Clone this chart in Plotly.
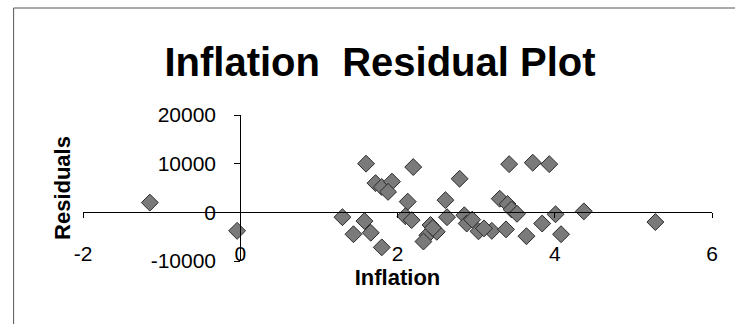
import plotly.graph_objects as go

inflation = [-1.15, -0.04, 1.30, 1.44, 1.58, 1.66, 1.80, 1.60, 1.72, 1.80, 1.93, 1.88,
             2.13, 2.10, 2.18, 2.20, 2.42, 2.38, 2.33, 2.61, 2.63, 2.79, 2.85, 2.88,
             3.03, 3.20, 3.38, 3.30, 3.40, 3.45, 3.52, 3.64, 3.84, 4.01, 4.08, 3.42,
             3.72, 3.93, 4.37, 5.28, 2.50, 2.45, 3.10, 2.95]
residuals = [2000, -3800, -1000, -4500, -1800, -4200, -7200, 10000, 6000, 5200, 6300, 4200,
             2200, -800, -1600, 9300, -2600, -4700, -6000, 2500, -1000, 6900, -600, -2300,
             -3900, -3800, -3500, 2800, 1700, 600, -300, -4900, -2300, -400, -4500, 9900,
             10200, 9900, 200, -2000, -4000, -3200, -3300, -1500]

x_ticks = [-2, 0, 2, 4, 6]
y_ticks = [-10000, 0, 10000, 20000]

FONT = "Liberation Sans"

fig = go.Figure()
fig.add_trace(go.Scatter(
    x=inflation, y=residuals, mode="markers",
    marker=dict(symbol="diamond", size=13, color="#7a7a7a",
                line=dict(color="#2a2a2a", width=1)),
    showlegend=False,
))

L, R, T, B = 82.5, 22.5, 115, 63
fig.update_layout(
    width=735, height=324, autosize=False,
    margin=dict(l=L, r=R, t=T, b=B, pad=0),
    paper_bgcolor="white", plot_bgcolor="white",
    font=dict(family=FONT, color="black"),
    title=dict(text="<b>Inflation  Residual Plot</b>", x=380 / 735, xref="container",
               xanchor="center", y=1 - 62 / 324, yref="container", yanchor="middle",
               font=dict(size=40, family=FONT, color="black")),
    xaxis=dict(range=[-2, 6], tickvals=x_ticks, ticktext=[str(v) for v in x_ticks],
               showgrid=False, zeroline=False, showline=True, linecolor="black",
               linewidth=1, ticks="outside", ticklen=5, tickcolor="black",
               anchor="free", position=1 / 3, ticklabelstandoff=17,
               tickfont=dict(size=21, family=FONT),
               title=dict(text="<b>Inflation</b>", font=dict(size=22, family=FONT),
                          standoff=4)),
    yaxis=dict(range=[-10000, 20000], tickvals=y_ticks, ticktext=[str(v) for v in y_ticks],
               showgrid=False, zeroline=False, showline=True, linecolor="black",
               linewidth=1, ticks="outside", ticklen=6, tickcolor="black",
               anchor="free", position=0.25, ticklabelstandoff=14,
               tickfont=dict(size=21, family=FONT),
               title=dict(text="<b>Residuals</b>", font=dict(size=22, family=FONT),
                          standoff=72)),
)

# frame of the chart area (top and left edges visible)
fig.add_shape(type="line", xref="paper", yref="paper",
              x0=(13 - L) / 630, x1=(740 - L) / 630, y0=(261 - 8) / 146, y1=(261 - 8) / 146,
              line=dict(color="#555555", width=1))
fig.add_shape(type="line", xref="paper", yref="paper",
              x0=(13 - L) / 630, x1=(13 - L) / 630, y0=(261 - 8) / 146, y1=(261 - 330) / 146,
              line=dict(color="#555555", width=1))

fig.write_html("out.html")
